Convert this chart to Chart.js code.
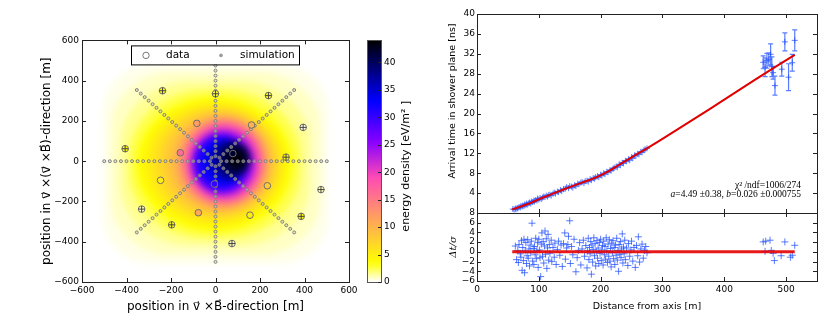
<!DOCTYPE html>
<html><head><meta charset="utf-8">
<script src="https://cdn.jsdelivr.net/npm/chart.js@4"></script>
<style>
html,body{margin:0;padding:0;background:#fff;}
#wrap{position:relative;width:822px;height:327px;overflow:hidden;background:#fff;}
#c1{position:absolute;left:0;top:0;}
#c2{position:absolute;left:405px;top:0;}
</style></head><body>
<div id="wrap"><canvas id="c1" width="415" height="327"></canvas><canvas id="c2" width="417" height="327"></canvas></div>
<script>
// ================= LEFT PANEL DATA =================
const MAP_TICKS = [-600, -400, -200, 0, 200, 400, 600];
const CB_TICKS = [0, 5, 10, 15, 20, 25, 30, 35, 40];
const CB_MAX = 44;
// simulation antennas: star pattern (arm angles, radii along arm, arm length)
const simAngles = [0, 45, 90, 135, 180, 225, 270, 315];
const simArmMax = [500, 500, 475, 500, 500, 500, 500, 500];
const simRadii = [25, 50, 75, 100, 125, 150, 175, 200, 225, 250, 275, 300, 325, 350, 375, 400, 425, 450, 475, 500];
// measured stations
const dataX = [-238, 0, 238, 394, -406, -84, 162, -158, 78, 317, -247, -5, 233, 474, -332, -77, 155, -197, 385, 74];
const dataY = [350, 335, 326, 168, 62, 188, 180, 42, 38, 20, -95, -113, -122, -141, -238, -256, -268, -316, -274, -409];
const dataE = [4, 3, 4, 0.5, 4, 12, 10, 16, 42, 4, 5, 30, 8, 1, 1, 11, 5, 4, 4, 1];
const dataFlag = [1, 1, 1, 1, 1, 0, 0, 0, 0, 1, 0, 0, 0, 1, 1, 0, 0, 1, 1, 1];
// energy-density contour levels: value, centre, half sizes, roundness
const levV  = [0.3, 0.8, 1.5, 2.5, 3.5, 4.5, 5.5, 6.5, 7.5, 8.5, 9.5, 10.5, 12, 13.5, 15, 16.5, 18, 19.5, 21, 22.5, 24, 25.5, 27, 28.5, 30, 31.5, 33, 34.5, 36, 37.5, 39, 40.5, 42, 43, 44];
const levCX = [0, 0, -2, -4, -5, -3, 2, 8, 14, 20, 26, 30, 32, 34, 35, 36, 36, 36, 35, 34, 32, 29, 26, 24, 25, 32, 42, 52, 63, 74, 84, 90, 93, 94, 95];
const levCY = [-15, -12, -12, -14, -15, -14, -12, -10, -9, -8, -7, -7, -7, -7, -7, -7, -7, -7, -8, -8, -9, -9, -10, -10, -8, -5, -1, 3, 6, 8, 10, 11, 12, 12, 12];
const levHW = [505, 470, 425, 385, 350, 325, 300, 278, 258, 240, 222, 210, 198, 190, 182, 174, 166, 158, 150, 143, 137, 132, 127, 123, 116, 108, 99, 92, 86, 80, 74, 64, 50, 36, 20];
const levHH = [495, 455, 410, 370, 335, 312, 292, 275, 262, 250, 238, 230, 222, 214, 206, 198, 189, 180, 171, 163, 156, 150, 145, 141, 133, 124, 114, 106, 100, 94, 88, 77, 61, 44, 25];
const levRound = [0.45, 0.6, 0.75, 0.9, 1, 1, 1, 1, 1, 1, 1, 1, 1, 1, 1, 1, 1, 1, 1, 1, 1, 1, 1, 1, 1, 1, 1, 1, 1, 1, 1, 1, 1, 1, 1];

// ================= RIGHT PANEL DATA =================
const X_TICKS = [0, 100, 200, 300, 400, 500];
const T_TICKS = [0, 4, 8, 12, 16, 20, 24, 28, 32, 36, 40];
const R_TICKS = [-6, -4, -2, 0, 2, 4, 6, 8];
const fitX = [57, 70, 80, 90, 100, 115, 130, 150, 170, 190, 210, 230, 250, 275, 300, 350, 400, 450, 514];
const fitT = [0.7, 1.25, 1.7, 2.2, 2.75, 3.5, 4.25, 5.2, 6.1, 7.0, 8.2, 9.7, 11.2, 13.0, 14.9, 18.8, 22.8, 26.8, 31.8];
const nearPts = [[58,0.8],[60,0.7],[62,0.9],[63,0.75],[65,1.0],[66,0.9],[68,1.2],[70,1.1],[71,1.4],[73,1.3],[74,1.5],[76,1.4],[77,1.7],[79,1.6],[80,1.9],[82,1.7],[84,2.0],[85,2.1],[87,1.9],[88,2.3],[90,2.2],[92,2.5],[93,2.3],[95,2.6],[97,2.5],[98,2.9],[100,2.7],[102,3.0],[104,2.8],[106,3.1],[108,3.3],[110,3.2],[112,3.5],[114,3.3],[116,3.6],[118,3.7],[120,3.5],[123,3.9],[125,4.1],[127,3.9],[130,4.3],[132,4.2],[135,4.6],[137,4.4],[140,4.8],[143,4.9],[145,5.2],[148,5.0],[150,5.4],[153,5.3],[155,5.1],[158,5.6],[160,5.4],[163,5.9],[165,5.8],[168,6.1],[170,6.2],[173,6.0],[175,6.4],[178,6.5],[180,6.3],[183,6.8],[185,6.6],[188,7.0],[190,6.9],[192,7.2],[195,7.4],[197,7.2],[200,7.7],[202,7.5],[205,8.0],[207,7.8],[210,8.3],[212,8.2],[215,8.6],[217,8.5],[220,8.9],[222,9.1],[225,9.3],[227,9.2],[230,9.8],[232,9.6],[235,10.1],[237,10.0],[240,10.5],[242,10.4],[245,10.8],[247,10.6],[250,11.2],[252,11.0],[255,11.6],[257,11.5],[260,11.9],[262,11.8],[265,12.3],[267,12.2],[270,12.6],[272,12.8],[275,13.0]];
const farX = [463, 466, 469, 472, 475, 477, 479, 482, 493, 498, 504, 510, 514];
const farT = [30.3, 29.3, 30.6, 30.9, 31.9, 29.4, 28.2, 25.6, 28.9, 34.4, 27.3, 30.2, 34.7];
const farErr = [1.3, 1.9, 1.5, 1.3, 2.1, 2.0, 1.3, 1.9, 1.4, 1.8, 2.7, 1.7, 2.1];
const resPts = [[62,1.2],[64,-1.6],[66,0.3],[67,-2.2],[68,1.5],[70,-0.4],[71,-1.1],[72,2.3],[73,-3.8],[74,0.9],[75,-1.8],[76,2.6],[77,-4.3],[78,0.2],[79,1.9],[80,-2.4],[81,-0.8],[82,2.5],[83,-1.3],[84,0.6],[85,-2.9],[86,1.4],[87,-0.2],[88,2.2],[89,5.9],[90,-1.9],[91,0.7],[92,-2.6],[93,1.1],[94,-0.6],[95,2.8],[96,-1.4],[97,0.3],[98,1.9],[99,-3.2],[100,2.6],[101,0.4],[102,-1.2],[103,-5.1],[104,1.6],[105,3.9],[106,-0.9],[107,2.1],[108,-2.3],[109,1.2],[110,4.3],[111,-0.5],[112,2.7],[113,-3.4],[114,0.8],[115,3.6],[116,-1.7],[117,1.5],[118,-0.3],[120,2.4],[121,-2.0],[123,0.9],[125,-1.1],[126,1.8],[128,-2.6],[130,0.5],[132,2.2],[134,-0.7],[136,1.4],[138,-3.0],[140,1.7],[142,3.9],[143,-1.5],[145,0.8],[147,1.5],[148,3.2],[150,6.4],[151,-2.4],[153,1.1],[155,-0.6],[157,2.6],[160,-4.1],[162,-1.2],[164,0.3],[166,1.9],[168,-2.7],[170,0.6],[172,2.4],[174,-0.9],[176,1.3],[178,-3.3],[179,0.2],[180,2.8],[181,-1.6],[182,0.9],[183,-0.4],[184,2.1],[185,-4.6],[186,1.4],[187,-2.1],[188,0.5],[189,2.9],[190,-0.8],[191,1.7],[192,-2.9],[193,0.1],[194,2.3],[195,-1.3],[196,0.8],[197,-2.4],[198,1.9],[199,-0.3],[200,2.6],[201,-1.8],[202,0.4],[203,1.3],[204,-2.7],[205,2.2],[206,-0.6],[207,1.1],[208,-1.5],[209,2.9],[210,0.2],[211,-2.2],[212,1.6],[213,-0.9],[214,2.5],[215,-1.9],[216,0.7],[217,-3.1],[218,1.8],[219,-0.2],[220,2.3],[221,-1.4],[222,0.9],[223,-2.6],[224,1.4],[225,-0.7],[226,2.8],[227,-1.7],[228,0.3],[229,-4.0],[230,1.5],[231,-0.5],[232,2.1],[233,-1.2],[234,0.6],[235,3.7],[236,-2.3],[237,1.0],[238,-0.4],[239,2.4],[240,-1.6],[242,0.8],[244,-2.8],[245,1.7],[247,-0.9],[249,0.4],[250,2.2],[252,-1.9],[254,0.9],[256,-3.2],[258,1.3],[260,-0.8],[261,3.1],[263,-2.1],[265,0.6],[267,1.6],[269,-1.3],[271,0.3],[273,1.1],[275,-0.2],
  [463,2.05],[467,2.2],[474,2.4],[466,0.1],[476,0.3],[479,-0.3],[481,-1.8],[498,2.05],[492,-0.8],[507,-1.1],[510,-0.7],[514,1.35]];
const resLineX = [57, 514];
const resLineR = [0, 0];

// ================= HELPERS =================
Chart.defaults.font.family = '"DejaVu Sans", sans-serif';
Chart.defaults.color = '#000';
function cmap(v) { // gnuplot2 reversed
  const x = 1 - Math.max(0, Math.min(1, v / CB_MAX));
  const cl = t => Math.max(0, Math.min(1, t));
  const r = cl(x / 0.32 - 0.78125), g = cl(2 * x - 0.84);
  let b; if (x < 0.25) b = 4 * x; else if (x < 0.42) b = 1; else if (x < 0.92) b = -2 * x + 1.84; else b = x / 0.08 - 11.5;
  b = cl(b);
  return 'rgb(' + Math.round(r * 255) + ',' + Math.round(g * 255) + ',' + Math.round(b * 255) + ')';
}
const fmt = v => String(v).replace('-', '\u2212');
const setTicks = arr => (s) => { s.ticks = arr.map(v => ({value: v})); };
const noGrid = {display: false, drawTicks: false, tickLength: 0};
function drawFrame(ctx, l, t, r, b, xs, xt, ys, yt, len) {
  ctx.save();
  ctx.strokeStyle = '#222'; ctx.lineWidth = 1;
  ctx.strokeRect(Math.round(l) + 0.5, Math.round(t) + 0.5, Math.round(r - l), Math.round(b - t));
  ctx.beginPath();
  if (xs) xt.forEach(v => { const p = Math.round(xs.getPixelForValue(v)) + 0.5;
    ctx.moveTo(p, b); ctx.lineTo(p, b - len); ctx.moveTo(p, t); ctx.lineTo(p, t + len); });
  if (ys) yt.forEach(v => { const p = Math.round(ys.getPixelForValue(v)) + 0.5;
    ctx.moveTo(l, p); ctx.lineTo(l + len, p); ctx.moveTo(r, p); ctx.lineTo(r - len, p); });
  ctx.stroke(); ctx.restore();
}

// ================= LEFT CHART =================
const simPts = [];
simAngles.forEach((a, i) => simRadii.forEach(r => { if (r <= simArmMax[i]) simPts.push({x: r * Math.cos(a * Math.PI / 180), y: r * Math.sin(a * Math.PI / 180)}); }));
const dataPts = dataX.map((x, i) => ({x, y: dataY[i]}));
const flagPts = dataPts.filter((p, i) => dataFlag[i]);

const mapPlugin = {
  id: 'mapPlugin',
  beforeDatasetsDraw(chart) {
    const {ctx, chartArea: a, scales: {x, y, cb}} = chart;
    const W = Math.round(a.right - a.left), H = Math.round(a.bottom - a.top);
    const off = document.createElement('canvas'); off.width = W; off.height = H;
    const o = off.getContext('2d');
    for (let i = 0; i < levV.length; i++) {
      const x0 = x.getPixelForValue(levCX[i] - levHW[i]) - a.left, x1 = x.getPixelForValue(levCX[i] + levHW[i]) - a.left;
      const y0 = y.getPixelForValue(levCY[i] + levHH[i]) - a.top, y1 = y.getPixelForValue(levCY[i] - levHH[i]) - a.top;
      const w = x1 - x0, h = y1 - y0, rr = levRound[i];
      o.fillStyle = cmap(levV[i]);
      o.beginPath();
      if (o.roundRect) o.roundRect(x0, y0, w, h, [{x: rr * w / 2, y: rr * h / 2}]);
      else o.ellipse(x0 + w / 2, y0 + h / 2, w / 2, h / 2, 0, 0, Math.PI * 2);
      o.fill();
    }
    ctx.save();
    ctx.beginPath(); ctx.rect(a.left, a.top, a.right - a.left, a.bottom - a.top); ctx.clip();
    ctx.filter = 'blur(3px)';
    ctx.drawImage(off, a.left, a.top);
    ctx.filter = 'none';
    ctx.restore();
    // colour bar
    const bx0 = a.right + 18, bx1 = a.right + 32;
    const yb = cb.getPixelForValue(0), ytp = cb.getPixelForValue(CB_MAX);
    const g = ctx.createLinearGradient(0, yb, 0, ytp);
    for (let v = 0; v <= CB_MAX; v += 1) g.addColorStop(v / CB_MAX, cmap(v));
    ctx.fillStyle = g;
    ctx.fillRect(bx0, ytp, bx1 - bx0, yb - ytp);
  },
  afterDatasetsDraw(chart) {
    const {ctx, chartArea: a, scales: {x, y, cb}} = chart;
    drawFrame(ctx, a.left, a.top, a.right, a.bottom, x, MAP_TICKS, y, MAP_TICKS, 4);
    // colour bar frame & ticks
    const bx0 = a.right + 18, bx1 = a.right + 32;
    const yb = cb.getPixelForValue(0), ytp = cb.getPixelForValue(CB_MAX);
    ctx.save();
    ctx.strokeStyle = '#555'; ctx.lineWidth = 1;
    ctx.strokeRect(Math.round(bx0) + 0.5, Math.round(ytp) + 0.5, Math.round(bx1 - bx0), Math.round(yb - ytp));
    ctx.beginPath();
    CB_TICKS.forEach(v => { const p = Math.round(cb.getPixelForValue(v)) + 0.5; ctx.moveTo(bx1, p); ctx.lineTo(bx1 - 3, p); });
    ctx.strokeStyle = '#222'; ctx.stroke();
    // colour bar label
    ctx.translate(a.right + 57, (a.top + a.bottom) / 2 + 5);
    ctx.rotate(-Math.PI / 2);
    ctx.font = '11px "DejaVu Sans"'; ctx.fillStyle = '#000'; ctx.textAlign = 'center'; ctx.textBaseline = 'middle';
    ctx.fillText('energy density [eV/m\u00B2 ]', 0, 0);
    ctx.restore();
    // legend
    ctx.save();
    const lx = a.left + 49, ly = a.top + 5, lw = 168, lh = 19;
    ctx.fillStyle = '#fff'; ctx.fillRect(lx, ly, lw, lh);
    ctx.strokeStyle = '#000'; ctx.lineWidth = 1; ctx.strokeRect(lx + 0.5, ly + 0.5, lw, lh);
    const cy = ly + lh / 2 + 0.5;
    ctx.beginPath(); ctx.arc(lx + 15, cy, 3.2, 0, Math.PI * 2); ctx.fillStyle = '#fff'; ctx.fill(); ctx.strokeStyle = '#777'; ctx.stroke();
    ctx.beginPath(); ctx.arc(lx + 90, cy, 1.8, 0, Math.PI * 2); ctx.fillStyle = '#999'; ctx.fill();
    ctx.fillStyle = '#000'; ctx.font = '10.5px "DejaVu Sans"'; ctx.textBaseline = 'middle'; ctx.textAlign = 'left';
    ctx.fillText('data', lx + 35, cy);
    ctx.fillText('simulation', lx + 109, cy);
    ctx.restore();
  }
};

new Chart(document.getElementById('c1'), {
  type: 'scatter',
  data: {datasets: [
    {label: 'flag', data: flagPts, pointStyle: 'cross', pointRadius: 3.3, borderColor: '#444', borderWidth: 1, backgroundColor: 'transparent'},
    {label: 'data', data: dataPts, pointRadius: 3.3, pointBackgroundColor: dataE.map(cmap), pointBorderColor: '#6f6f6f', borderWidth: 1},
    {label: 'simulation', data: simPts, pointRadius: 1.5, pointBackgroundColor: 'rgba(200,200,200,0.5)', pointBorderColor: 'rgba(125,125,125,0.95)', borderWidth: 1}
  ]},
  options: {
    responsive: false, animation: false, devicePixelRatio: 1,
    layout: {padding: {top: 16, left: 0, right: 0, bottom: 0}},
    plugins: {legend: {display: false}, tooltip: {enabled: false}},
    scales: {
      x: {type: 'linear', min: -600, max: 600, afterBuildTicks: setTicks(MAP_TICKS),
          grid: noGrid, border: {display: false},
          ticks: {font: {size: 9}, padding: 3, maxRotation: 0, autoSkip: false, callback: fmt},
          title: {display: true, text: 'position in v\u20D7 \u00D7B\u20D7-direction [m]', font: {size: 12}, padding: {top: 0, bottom: 12.8}},
          afterFit: s => { s.height = 45; }},
      y: {type: 'linear', position: 'left', min: -600, max: 600, afterBuildTicks: setTicks(MAP_TICKS),
          grid: noGrid, border: {display: false},
          ticks: {font: {size: 9}, padding: 3, autoSkip: false, callback: fmt},
          title: {display: true, text: 'position in v\u20D7 \u00D7(v\u20D7 \u00D7B\u20D7)-direction [m]', font: {size: 12}, padding: {top: 40, bottom: 0}},
          afterFit: s => { s.width = 82; }},
      cb: {type: 'linear', axis: 'y', position: 'right', min: 0, max: CB_MAX, afterBuildTicks: setTicks(CB_TICKS),
          grid: noGrid, border: {display: false},
          ticks: {font: {size: 9}, padding: 35, autoSkip: false, callback: fmt},
          afterFit: s => { s.width = 66; }}
    }
  },
  plugins: [mapPlugin]
});

// ================= RIGHT CHART =================
const blue = 'rgba(35,80,255,0.75)';
const fitPts = fitX.map((x, i) => ({x, y: fitT[i]}));
const farPts = farX.map((x, i) => ({x, y: farT[i]}));
const zeroPts = resLineX.map((x, i) => ({x, y: resLineR[i]}));
const nearData = nearPts.map(p => ({x: p[0], y: p[1]}));
const resData = resPts.map(p => ({x: p[0], y: p[1]}));

const rightPlugin = {
  id: 'rightPlugin',
  beforeDatasetsDraw(chart) {
    const {ctx, scales: {x, yt}} = chart;
    ctx.save(); ctx.strokeStyle = blue; ctx.lineWidth = 1.2; ctx.beginPath();
    farX.forEach((v, i) => {
      const px = x.getPixelForValue(v), p0 = yt.getPixelForValue(farT[i] - farErr[i]), p1 = yt.getPixelForValue(farT[i] + farErr[i]);
      ctx.moveTo(px, p0); ctx.lineTo(px, p1);
      ctx.moveTo(px - 2.5, p0); ctx.lineTo(px + 2.5, p0);
      ctx.moveTo(px - 2.5, p1); ctx.lineTo(px + 2.5, p1);
    });
    ctx.stroke(); ctx.restore();
  },
  afterDatasetsDraw(chart) {
    const {ctx, chartArea: a, scales: {x, yt, yr}} = chart;
    drawFrame(ctx, a.left, yt.top, a.right, yt.bottom, x, X_TICKS, yt, T_TICKS, 4);
    drawFrame(ctx, a.left, yr.top, a.right, yr.bottom, x, X_TICKS, yr, R_TICKS, 4);
    ctx.save();
    ctx.fillStyle = '#000'; ctx.textAlign = 'center'; ctx.textBaseline = 'middle';
    ctx.save(); ctx.translate(a.left - 24, yt.top + 87); ctx.rotate(-Math.PI / 2);
    ctx.font = '9.5px "DejaVu Sans"'; ctx.fillText('Arrival time in shower plane [ns]', 0, 0); ctx.restore();
    ctx.save(); ctx.translate(a.left - 24, (yr.top + yr.bottom) / 2); ctx.rotate(-Math.PI / 2);
    ctx.font = 'italic 10px "DejaVu Serif"'; ctx.fillText('\u0394t/\u03C3', 0, 0); ctx.restore();
    // fit annotation
    const rx = a.right - 16;
    ctx.textAlign = 'right'; ctx.textBaseline = 'alphabetic';
    ctx.font = '9.5px "Liberation Serif"';
    ctx.fillText('\u03C7\u00B2 /ndf=1006/274', rx, yt.bottom - 25);
    const segs = [['a', true], ['=4.49 \u00B10.38, ', false], ['b', true], ['=0.026 \u00B10.000755', false]];
    const fontOf = it => (it ? 'italic ' : '') + '9.5px "Liberation Serif"';
    let total = 0; segs.forEach(s => { ctx.font = fontOf(s[1]); total += ctx.measureText(s[0]).width; });
    let cx = rx - total; ctx.textAlign = 'left';
    segs.forEach(s => { ctx.font = fontOf(s[1]); ctx.fillText(s[0], cx, yt.bottom - 16); cx += ctx.measureText(s[0]).width; });
    ctx.restore();
  }
};

new Chart(document.getElementById('c2'), {
  type: 'scatter',
  data: {datasets: [
    {label: 'fit', data: fitPts, xAxisID: 'x', yAxisID: 'yt', showLine: true, borderColor: '#e00000', borderWidth: 2, pointRadius: 0, tension: 0.3},
    {label: 'zero', data: zeroPts, xAxisID: 'x', yAxisID: 'yr', showLine: true, borderColor: 'rgba(230,0,0,0.9)', borderWidth: 3, pointRadius: 0},
    {label: 'far', data: farPts, xAxisID: 'x', yAxisID: 'yt', pointStyle: 'cross', pointRadius: 3, borderColor: blue, borderWidth: 1},
    {label: 'near', data: nearData, xAxisID: 'x', yAxisID: 'yt', pointStyle: 'cross', pointRadius: 3, borderColor: blue, borderWidth: 1},
    {label: 'res', data: resData, xAxisID: 'x', yAxisID: 'yr', pointStyle: 'cross', pointRadius: 3.5, borderColor: blue, borderWidth: 1}
  ]},
  options: {
    responsive: false, animation: false, devicePixelRatio: 1,
    layout: {padding: {top: 14, left: 0, right: 2, bottom: 0}},
    plugins: {legend: {display: false}, tooltip: {enabled: false}},
    scales: {
      x: {type: 'linear', min: 0, max: 550, afterBuildTicks: setTicks(X_TICKS),
          grid: noGrid, border: {display: false},
          ticks: {font: {size: 9}, padding: 3, maxRotation: 0, autoSkip: false},
          title: {display: true, text: 'Distance from axis [m]', font: {size: 9.5}, padding: {top: 0, bottom: 14.3}},
          afterFit: s => { s.height = 46; }},
      yr: {type: 'linear', position: 'left', stack: 'panels', stackWeight: 68, min: -6, max: 8, afterBuildTicks: setTicks(R_TICKS),
          grid: noGrid, border: {display: false},
          ticks: {font: {size: 9}, padding: 2, autoSkip: false, callback: fmt},
          afterFit: s => { s.width = 72; }},
      yt: {type: 'linear', position: 'left', stack: 'panels', stackWeight: 199, min: 0, max: 40, afterBuildTicks: setTicks(T_TICKS.slice(1)),
          grid: noGrid, border: {display: false},
          ticks: {font: {size: 9}, padding: 2, autoSkip: false, callback: fmt},
          afterFit: s => { s.width = 72; }}
    }
  },
  plugins: [rightPlugin]
});
</script>
</body></html>
